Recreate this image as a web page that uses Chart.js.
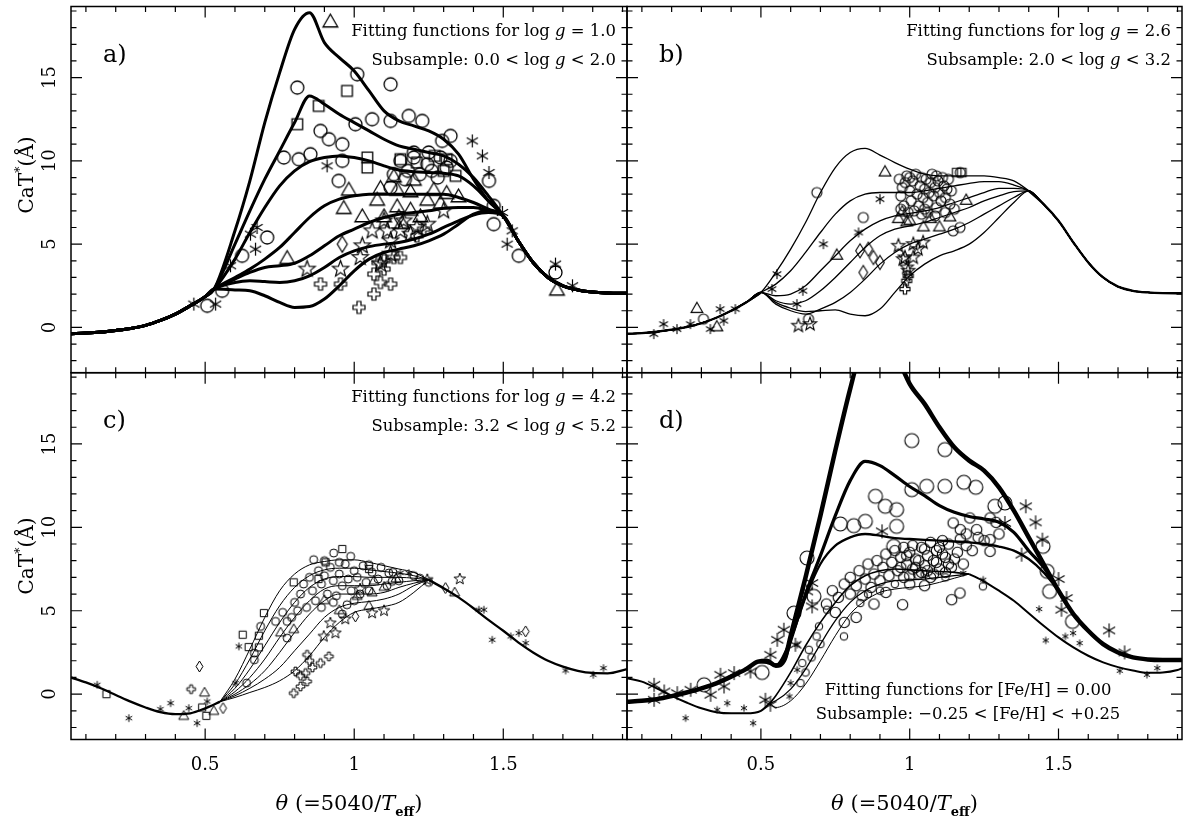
<!DOCTYPE html>
<html>
<head>
<meta charset="utf-8">
<script src="https://cdn.jsdelivr.net/npm/chart.js@4.4.1/dist/chart.umd.min.js"></script>
<style>
html, body { margin: 0; padding: 0; background: #fff; }
#wrap { position: relative; width: 1186px; height: 817px; }
#wrap canvas { position: absolute; left: 0; top: 0; }
</style>
</head>
<body>
<div id="wrap">
  <canvas id="pa" width="1186" height="817"></canvas>
  <canvas id="pb" width="1186" height="817"></canvas>
  <canvas id="pc" width="1186" height="817"></canvas>
  <canvas id="pd" width="1186" height="817"></canvas>
</div>
<script>
// ── Axes ─────────────────────────────────────────────────────
const xRange = [0.05, 1.915];
const yRange = [-2.72, 19.27];
const xTickLabels = [0.5, 1, 1.5];
const yTickLabels = [0, 5, 10, 15];

// ── Panel a : log g = 1.0 ───────────────────────────────────
const aBaseTheta = [0.05, 0.1, 0.15, 0.2, 0.25, 0.3, 0.35, 0.4, 0.45, 0.5];
const aBase = [-0.38, -0.34, -0.28, -0.18, -0.06, 0.12, 0.42, 0.8, 1.3, 1.85];
const aMidTheta = [0.53, 0.6, 0.65, 0.7, 0.75, 0.8, 0.85, 0.9, 0.95, 1.0, 1.05, 1.1, 1.15, 1.2, 1.25, 1.3, 1.35, 1.4, 1.45, 1.5];
const aCurve1 = [2.3, 5.8, 8.8, 12.3, 15.3, 17.9, 18.9, 17.1, 16.2, 15.4, 14.2, 13.0, 12.4, 12.1, 11.8, 11.3, 10.4, 8.9, 7.6, 6.7];
const aCurve2 = [2.3, 5.0, 7.0, 8.9, 10.6, 12.3, 13.9, 13.4, 12.8, 12.3, 11.8, 11.3, 10.9, 10.7, 10.5, 10.3, 9.8, 9.0, 7.9, 6.7];
const aCurve3 = [2.3, 4.1, 5.7, 7.2, 8.5, 9.4, 9.95, 10.2, 10.3, 10.2, 10.0, 9.7, 9.45, 9.35, 9.3, 9.25, 9.1, 8.5, 7.6, 6.7];
const aCurve4 = [2.3, 3.0, 3.5, 4.1, 4.8, 5.7, 6.6, 7.3, 7.7, 7.9, 8.0, 8.0, 8.0, 8.0, 8.0, 8.0, 7.8, 7.5, 7.1, 6.7];
const aCurve5 = [2.3, 2.9, 3.3, 3.6, 3.7, 3.85, 4.3, 4.9, 5.5, 5.9, 6.3, 6.6, 6.8, 6.9, 7.0, 7.15, 7.2, 7.2, 7.0, 6.7];
const aCurve6 = [2.3, 2.7, 2.8, 2.75, 2.7, 2.8, 3.1, 3.6, 4.2, 4.6, 4.85, 5.0, 5.1, 5.3, 5.6, 6.0, 6.4, 6.75, 6.9, 6.7];
const aCurve7 = [2.3, 2.25, 2.2, 1.9, 1.5, 1.2, 1.25, 1.7, 2.5, 3.4, 4.1, 4.5, 4.7, 4.9, 5.2, 5.6, 6.2, 6.8, 7.0, 6.7];
const aTailTheta = [1.55, 1.6, 1.65, 1.7, 1.75, 1.8, 1.85, 1.915];
const aTail = [5.2, 3.9, 3.0, 2.5, 2.25, 2.12, 2.07, 2.05];

const aCircles = [[0.507, 1.3], [0.557, 2.2], [0.624, 4.3], [0.708, 5.4], [0.764, 10.2], [0.814, 10.1], [0.853, 10.4],
  [0.809, 14.4], [0.887, 11.8], [0.915, 11.3], [0.96, 11.0], [0.948, 8.8], [0.96, 10.0], [1.01, 15.2], [1.122, 14.6],
  [1.004, 12.2], [1.06, 12.5], [1.122, 12.4], [1.183, 12.7], [1.228, 12.4], [1.323, 11.5], [1.295, 11.2], [1.155, 10.0],
  [1.2, 10.2], [1.245, 9.8], [1.29, 10.2], [1.323, 10.0], [1.133, 9.2], [1.18, 9.4], [1.22, 9.2], [1.26, 9.4], [1.31, 9.6],
  [1.122, 8.4], [1.2, 10.5], [1.25, 10.5], [1.28, 9.0], [1.17, 8.9], [1.452, 8.8], [1.468, 7.3], [1.468, 6.2],
  [1.552, 4.3], [1.675, 3.3]];
const aSquares = [[0.881, 13.3], [0.809, 12.2], [0.976, 14.2], [1.044, 10.2], [1.044, 9.6], [1.155, 10.1], [1.21, 9.9],
  [1.31, 10.1], [1.30, 9.4], [1.34, 9.1], [1.27, 10.3]];
const aTriangles = [[0.92, 18.3], [0.775, 4.1], [0.982, 8.2], [0.965, 7.1], [1.027, 6.6], [1.68, 2.2], [1.077, 7.6],
  [1.144, 8.2], [1.144, 7.2], [1.189, 8.1], [1.1, 6.6], [1.189, 7.0], [1.245, 7.6], [1.222, 6.6], [1.29, 7.4],
  [1.267, 8.2], [1.133, 9.0], [1.2, 8.8], [1.088, 8.3], [1.31, 8.0], [1.16, 6.2], [1.35, 7.8]];
const aStars = [[0.842, 3.5], [0.954, 3.5], [1.027, 4.9], [1.02, 4.2], [1.06, 5.8], [1.088, 3.8], [1.122, 4.4],
  [1.111, 5.8], [1.155, 5.8], [1.189, 5.6], [1.122, 5.2], [1.1, 6.4], [1.166, 6.4], [1.3, 7.0], [1.245, 6.2], [1.21, 6.0]];
const aPluses = [[0.887, 2.6], [0.954, 2.6], [1.016, 1.2], [1.066, 2.0], [1.066, 3.2], [1.088, 2.7], [1.122, 2.6],
  [1.1, 3.5], [1.133, 4.2], [1.155, 4.2], [1.233, 5.9], [1.21, 5.5], [1.08, 3.9], [1.1, 4.0]];
const aDiamonds = [[0.96, 5.0], [1.15, 6.6]];
const aAsterisks = [[0.462, 1.4], [0.535, 1.4], [0.585, 3.7], [0.652, 5.6], [0.674, 6.0], [0.669, 4.7], [0.909, 9.7],
  [1.396, 11.2], [1.43, 10.3], [1.452, 9.3], [1.497, 6.9], [1.53, 5.8], [1.513, 5.0], [1.675, 3.8], [1.732, 2.5]];

// ── Panel b : log g = 2.6 ───────────────────────────────────
const bBaseTheta = [0.05, 0.1, 0.15, 0.2, 0.25, 0.3, 0.35, 0.4, 0.45];
const bBase = [-0.38, -0.34, -0.26, -0.14, 0.02, 0.25, 0.58, 1.0, 1.5];
const bMidTheta = [0.5, 0.55, 0.6, 0.65, 0.7, 0.75, 0.8, 0.85, 0.9, 0.95, 1.0, 1.05, 1.1, 1.15, 1.2, 1.25, 1.3, 1.35, 1.4];
const bCurve1 = [2.1, 3.3, 4.7, 6.3, 8.1, 9.6, 10.5, 10.75, 10.35, 9.9, 9.5, 9.2, 9.1, 9.1, 9.1, 9.1, 9.0, 8.8, 8.2];
const bCurve2 = [2.1, 2.6, 3.4, 4.5, 5.7, 6.8, 7.6, 8.0, 8.1, 8.1, 8.1, 8.2, 8.35, 8.5, 8.65, 8.75, 8.75, 8.55, 8.2];
const bCurve3 = [2.1, 1.9, 2.0, 2.5, 3.4, 4.3, 5.2, 5.9, 6.4, 6.7, 6.85, 7.0, 7.2, 7.5, 7.8, 8.1, 8.35, 8.35, 8.2];
const bCurve4 = [2.1, 1.6, 1.4, 1.6, 2.2, 3.0, 3.9, 4.8, 5.5, 5.9, 6.1, 6.3, 6.6, 6.9, 7.2, 7.6, 7.9, 8.15, 8.2];
const bCurve5 = [2.1, 1.4, 1.0, 0.8, 1.1, 1.5, 2.1, 2.9, 3.8, 4.5, 5.0, 5.3, 5.6, 5.9, 6.3, 6.8, 7.3, 7.8, 8.2];
const bCurve6 = [2.1, 1.5, 1.15, 0.95, 1.0, 1.05, 0.8, 0.7, 1.1, 2.1, 3.1, 3.8, 4.3, 4.6, 5.0, 5.7, 6.6, 7.5, 8.2];
const bTailTheta = [1.45, 1.5, 1.55, 1.6, 1.65, 1.7, 1.75, 1.8, 1.85, 1.915];
const bTail = [7.4, 6.4, 5.1, 3.9, 3.0, 2.45, 2.2, 2.1, 2.06, 2.05];

const bCircles = [[0.307, 0.5], [0.66, 0.5], [0.688, 8.1], [0.844, 6.6], [0.965, 8.9], [0.975, 8.4], [0.97, 7.9],
  [0.985, 8.7], [0.99, 9.1], [1.0, 8.2], [1.005, 7.6], [1.01, 8.8], [1.02, 9.2], [1.025, 8.0], [1.03, 7.3], [1.035, 8.5],
  [1.04, 9.0], [1.045, 7.8], [1.05, 8.3], [1.055, 8.9], [1.06, 7.5], [1.065, 8.1], [1.07, 8.7], [1.075, 9.2], [1.08, 7.9],
  [1.085, 8.4], [1.09, 7.2], [1.095, 8.8], [1.1, 8.1], [1.105, 7.6], [1.11, 9.0], [1.115, 8.5], [1.12, 7.8], [1.125, 8.3],
  [1.13, 8.9], [1.135, 7.4], [0.98, 7.3], [0.995, 6.9], [1.015, 7.0], [1.04, 6.8], [1.06, 6.9], [1.085, 6.7], [1.14, 8.2],
  [1.15, 7.1], [1.146, 5.8], [1.169, 6.0], [1.17, 9.3], [0.97, 7.1], [1.0, 9.0], [1.09, 9.1], [1.05, 7.1], [1.12, 6.9]];
const bSquares = [[1.158, 9.3], [1.175, 9.3]];
const bTriangles = [[0.285, 1.1], [0.352, 0.0], [0.755, 4.3], [0.917, 9.3], [0.962, 6.5], [0.99, 6.3], [1.0, 6.4],
  [1.046, 6.0], [1.1, 6.0], [1.135, 6.6], [1.19, 7.6], [1.07, 6.5], [0.975, 6.9]];
const bStars = [[0.626, 0.1], [0.665, 0.2], [0.962, 4.9], [1.012, 5.0], [0.978, 4.1], [1.012, 4.2], [0.99, 3.6],
  [1.028, 4.7], [0.984, 4.2], [0.995, 3.4], [1.045, 5.1]];
const bPluses = [[0.995, 3.1], [0.984, 2.3], [0.99, 2.8]];
const bDiamonds = [[0.833, 4.6], [0.861, 4.7], [0.878, 4.2], [0.9, 3.9], [0.844, 3.3]];
const bAsterisks = [[0.14, -0.4], [0.173, 0.2], [0.218, -0.1], [0.263, 0.2], [0.33, -0.1], [0.363, 1.1], [0.375, 0.4],
  [0.414, 1.1], [0.554, 3.2], [0.537, 2.3], [0.621, 1.4], [0.641, 2.2], [0.71, 5.0], [0.828, 5.7], [0.9, 7.7]];

// ── Panel c : log g = 4.2 ───────────────────────────────────
const cBaseTheta = [0.05, 0.1, 0.15, 0.2, 0.25, 0.3, 0.35, 0.4, 0.45, 0.5, 0.55];
const cBase = [1.0, 0.7, 0.35, -0.05, -0.45, -0.8, -1.08, -1.2, -1.15, -0.85, -0.45];
const cMidTheta = [0.55, 0.6, 0.65, 0.7, 0.75, 0.8, 0.85, 0.9, 0.95, 1.0, 1.05, 1.1, 1.15, 1.2, 1.25];
const cCurve1 = [-0.45, 0.9, 2.7, 4.6, 6.2, 7.2, 7.75, 7.95, 8.05, 8.05, 7.9, 7.7, 7.5, 7.3, 6.85];
const cCurve2 = [-0.45, 0.6, 2.1, 3.8, 5.3, 6.4, 7.1, 7.45, 7.55, 7.55, 7.45, 7.35, 7.25, 7.1, 6.85];
const cCurve3 = [-0.45, 0.35, 1.5, 2.9, 4.3, 5.5, 6.4, 6.9, 7.05, 7.05, 7.0, 7.0, 7.0, 6.95, 6.85];
const cCurve4 = [-0.45, 0.15, 1.0, 2.1, 3.4, 4.6, 5.6, 6.3, 6.5, 6.5, 6.5, 6.6, 6.7, 6.8, 6.85];
const cCurve5 = [-0.45, 0.0, 0.6, 1.4, 2.5, 3.7, 4.8, 5.6, 6.0, 6.0, 6.0, 6.1, 6.4, 6.65, 6.85];
const cCurve6 = [-0.45, -0.1, 0.35, 0.9, 1.6, 2.6, 3.6, 4.6, 5.2, 5.45, 5.55, 5.7, 6.0, 6.5, 6.85];
const cCurve7 = [-0.45, -0.2, 0.1, 0.4, 0.8, 1.4, 2.3, 3.4, 4.3, 4.9, 5.1, 5.25, 5.5, 6.1, 6.85];
const cTailTheta = [1.25, 1.3, 1.35, 1.4, 1.45, 1.5, 1.55, 1.6, 1.65, 1.7, 1.75, 1.8, 1.85, 1.915];
const cTail = [6.85, 6.35, 5.8, 5.15, 4.45, 3.8, 3.1, 2.5, 2.0, 1.65, 1.4, 1.27, 1.25, 1.5];

const cCircles = [[0.639, 0.66], [0.665, 2.06], [0.665, 2.46], [0.686, 4.06], [0.736, 4.36], [0.775, 3.36], [0.775, 4.36],
  [0.864, 8.06], [0.931, 8.46], [0.988, 8.26], [1.049, 7.76], [1.116, 7.26], [1.127, 6.76], [0.976, 5.36], [0.8, 5.5],
  [0.82, 6.0], [0.83, 6.6], [0.84, 5.2], [0.85, 7.0], [0.86, 6.2], [0.87, 5.6], [0.88, 7.4], [0.89, 6.6], [0.9, 7.1],
  [0.91, 6.0], [0.92, 7.6], [0.93, 6.8], [0.94, 5.9], [0.95, 7.2], [0.96, 6.5], [0.97, 7.8], [0.98, 6.9], [0.99, 6.2],
  [1.0, 7.4], [1.01, 7.0], [1.02, 6.0], [1.03, 7.7], [1.04, 6.7], [1.06, 7.3], [1.08, 6.9], [1.09, 7.6], [1.11, 6.5],
  [1.13, 7.3], [1.15, 6.8], [1.2, 7.1], [1.22, 6.95], [0.76, 4.9], [0.79, 4.6], [0.81, 5.0], [0.89, 5.2], [0.93, 5.5],
  [0.96, 4.8], [1.0, 5.6], [1.05, 6.2], [1.25, 6.7], [0.9, 8.0], [0.95, 7.9]];
const cSquares = [[0.169, 0.0], [0.626, 3.56], [0.646, 2.82], [0.68, 3.5], [0.697, 4.86], [0.68, 2.8], [0.49, -0.8],
  [0.504, -1.3], [0.797, 6.7], [0.904, 7.9], [0.96, 8.7], [0.88, 6.9], [1.05, 7.5]];
const cTriangles = [[0.428, -1.34], [0.498, 0.06], [0.529, -1.04], [0.797, 3.86], [0.753, 3.66], [1.066, 6.76],
  [1.06, 6.06], [1.049, 5.26], [1.337, 6.06], [1.01, 5.86], [0.95, 5.0], [0.9, 5.6], [1.1, 6.4], [1.14, 6.9]];
const cDiamonds = [[0.481, 1.66], [0.56, -0.84], [1.004, 4.66], [1.306, 6.36], [1.575, 3.76]];
const cStars = [[0.898, 3.46], [0.937, 3.66], [1.354, 6.9], [1.06, 4.86], [1.02, 6.3], [0.92, 4.26], [1.245, 6.86],
  [0.97, 4.5], [1.1, 5.0]];
const cPluses = [[0.453, 0.3], [0.803, 1.36], [0.797, 0.06], [0.82, 0.46], [0.842, 0.76], [0.837, 1.26], [0.842, 2.36],
  [0.887, 1.86], [0.915, 2.26], [0.86, 1.6], [0.85, 2.0], [0.82, 1.1]];
const cAsterisks = [[0.138, 0.56], [0.244, -1.44], [0.35, -0.9], [0.384, -0.54], [0.445, -0.84], [0.473, -1.74],
  [0.507, -0.44], [0.613, 2.86], [0.602, 0.66], [1.155, 7.26], [1.183, 7.26], [1.418, 5.06], [1.435, 5.06],
  [1.463, 3.26], [1.525, 3.46], [1.552, 3.66], [1.575, 3.06], [1.709, 1.42], [1.802, 1.16], [1.836, 1.56]];

// ── Panel d : [Fe/H] = 0.00 ─────────────────────────────────
const dCurve1Theta = [0.05, 0.1, 0.15, 0.2, 0.25, 0.3, 0.35, 0.4, 0.45, 0.49, 0.52, 0.55, 0.58, 0.6, 0.65, 0.7, 0.75,
  0.8, 0.85, 0.9, 0.95, 1.0, 1.05, 1.1, 1.15, 1.2, 1.25, 1.3, 1.35, 1.4, 1.45, 1.5, 1.55, 1.6, 1.65, 1.7, 1.75, 1.8,
  1.85, 1.915];
const dCurve1 = [-0.45, -0.4, -0.3, -0.12, 0.1, 0.35, 0.65, 1.05, 1.5, 1.95, 2.0, 1.7, 2.1, 3.5, 7.0, 10.7, 14.6,
  18.3, 21.5, 22.5, 20.6, 18.6, 17.4, 16.0, 14.8, 14.0, 13.4, 12.4, 11.0, 9.4, 7.8, 6.2, 4.8, 3.8, 3.0, 2.5, 2.2, 2.08,
  2.05, 2.05];
const dCurve2Theta = [0.49, 0.52, 0.55, 0.58, 0.6, 0.65, 0.7, 0.75, 0.8, 0.85, 0.9, 0.95, 1.0, 1.05, 1.1, 1.15, 1.2,
  1.25, 1.3, 1.35, 1.4, 1.45, 1.5];
const dCurve2 = [1.95, 1.9, 1.75, 2.1, 3.2, 6.0, 8.3, 10.7, 12.8, 13.95, 13.7, 13.1, 12.45, 11.9, 11.3, 10.9, 10.65,
  10.5, 10.3, 9.7, 8.6, 7.6, 6.2];
const dCurve3Theta = [0.52, 0.55, 0.6, 0.65, 0.7, 0.75, 0.8, 0.85, 0.9, 0.95, 1.0, 1.05, 1.1, 1.15, 1.2, 1.25, 1.3,
  1.35, 1.4, 1.45, 1.5];
const dCurve3 = [2.0, 1.75, 3.3, 5.8, 7.8, 8.9, 9.4, 9.6, 9.5, 9.35, 9.3, 9.25, 9.2, 9.15, 9.1, 9.0, 8.85, 8.6, 8.1,
  7.3, 6.2];
const dThinBaseTheta = [0.05, 0.1, 0.15, 0.2, 0.25, 0.3, 0.35, 0.4, 0.45, 0.5, 0.53];
const dThinBase = [0.95, 0.75, 0.35, -0.1, -0.5, -0.85, -1.08, -1.15, -1.15, -1.0, -0.55];
const dThinMidTheta = [0.53, 0.55, 0.6, 0.65, 0.7, 0.75, 0.8, 0.85, 0.9, 0.95, 1.0, 1.05, 1.1, 1.15, 1.2];
const dThin1 = [-0.55, -0.1, 1.3, 2.9, 4.3, 5.5, 6.5, 7.1, 7.4, 7.5, 7.45, 7.4, 7.35, 7.3, 7.2];
const dThin2 = [-0.55, -0.4, 0.3, 1.5, 3.0, 4.4, 5.5, 6.2, 6.6, 6.8, 6.85, 6.9, 7.0, 7.1, 7.2];
const dThin3 = [-0.55, -0.8, -0.4, 0.6, 2.0, 3.5, 4.8, 5.6, 6.1, 6.3, 6.4, 6.5, 6.7, 6.95, 7.2];
const dThinTailTheta = [1.2, 1.25, 1.3, 1.35, 1.4, 1.45, 1.5, 1.55, 1.6, 1.65, 1.7, 1.75, 1.8, 1.85, 1.9, 1.915];
const dThinTail = [7.2, 6.75, 6.2, 5.6, 4.85, 4.1, 3.4, 2.8, 2.3, 1.9, 1.62, 1.42, 1.28, 1.3, 1.45, 1.55];

const dBigCircles = [[1.007, 15.2], [1.118, 14.66], [1.057, 12.46], [1.118, 12.46], [1.182, 12.7], [1.222, 12.4],
  [1.007, 12.26], [0.956, 11.06], [0.956, 10.06], [1.286, 11.26], [1.32, 11.46], [1.448, 8.86], [1.47, 6.16],
  [1.547, 4.36], [1.462, 7.36], [0.885, 11.86], [0.918, 11.26], [0.767, 10.2], [0.812, 10.1], [0.851, 10.36],
  [0.946, 8.86], [0.655, 8.16], [0.504, 1.3], [0.309, 0.56], [0.611, 4.86], [0.678, 5.86]];
const dMidCircles = [[0.72, 5.4], [0.74, 6.2], [0.76, 5.8], [0.78, 6.6], [0.8, 6.0], [0.8, 7.0], [0.82, 6.5], [0.83, 7.4],
  [0.84, 5.9], [0.85, 6.9], [0.86, 7.8], [0.87, 6.4], [0.88, 7.2], [0.89, 8.0], [0.9, 6.8], [0.91, 7.6], [0.92, 8.4],
  [0.93, 7.1], [0.94, 7.9], [0.95, 8.6], [0.96, 7.4], [0.97, 8.2], [0.98, 7.0], [0.99, 7.8], [1.0, 8.5], [1.01, 7.5],
  [1.02, 8.1], [1.03, 7.2], [1.04, 8.8], [1.05, 7.7], [1.06, 8.3], [1.07, 7.0], [1.08, 8.0], [1.09, 8.6], [1.1, 7.5],
  [1.11, 9.2], [1.12, 8.2], [1.13, 7.8], [1.146, 10.26], [1.17, 9.86], [1.19, 8.9], [1.16, 8.5], [1.202, 10.56],
  [1.225, 9.86], [1.27, 10.56], [1.29, 10.3], [1.27, 9.26], [1.27, 8.56], [1.3, 9.6], [1.25, 9.2], [1.141, 5.66],
  [1.169, 6.06], [0.976, 5.36], [0.82, 4.6], [0.78, 4.3], [0.75, 4.9], [1.0, 6.6], [1.05, 6.5], [0.92, 6.1], [0.88, 5.4],
  [0.97, 7.6], [0.99, 8.3], [1.01, 8.9], [1.03, 8.0], [1.05, 8.7], [1.07, 9.1], [1.09, 7.9], [1.11, 8.4], [1.13, 9.0],
  [1.15, 8.1], [1.17, 9.3], [1.19, 9.6], [1.21, 8.6], [1.23, 9.4], [1.02, 7.6], [1.06, 7.4], [1.1, 8.8], [1.14, 7.6],
  [1.18, 7.8], [0.98, 8.8], [1.0, 7.1], [1.04, 7.3], [1.08, 7.2], [1.12, 7.3]];
const dSmallCircles = [[0.633, 0.66], [0.639, 1.86], [0.661, 2.66], [0.687, 3.46], [0.695, 4.06], [0.779, 3.46],
  [0.834, 5.46], [0.722, 5.06], [1.246, 6.46], [1.05, 7.2], [1.12, 7.0], [0.9, 6.2], [0.95, 6.6], [0.86, 6.0],
  [0.67, 2.2], [0.7, 3.0], [0.65, 1.3]];
const dBigAsterisks = [[1.39, 11.26], [1.423, 10.3], [1.446, 9.26], [1.376, 8.36], [1.5, 6.9], [1.527, 5.76],
  [1.51, 5.06], [1.67, 3.82], [1.722, 2.5], [1.32, 10.26], [0.907, 9.76], [0.672, 6.66], [0.655, 6.16], [0.672, 5.26],
  [0.577, 3.86], [0.555, 3.26], [0.532, 2.36], [0.616, 2.96], [0.465, 1.36], [0.41, 1.26], [0.364, 1.16],
  [0.376, 0.46], [0.331, -0.04], [0.264, 0.26], [0.219, 0.06], [0.175, 0.16], [0.141, 0.56], [0.141, -0.34],
  [0.515, -0.34], [0.532, -0.64]];
const dSmallAsterisks = [[0.247, -1.44], [0.353, -0.94], [0.387, -0.54], [0.443, -0.84], [0.474, -1.74], [0.596, -0.14],
  [0.6, 0.66], [0.622, 1.46], [0.622, 2.96], [1.435, 5.1], [1.457, 3.22], [1.523, 3.46], [1.549, 3.66], [1.571, 3.06],
  [1.706, 1.4], [1.797, 1.16], [1.832, 1.56], [1.247, 6.86], [1.18, 7.26]];

// ── Layout ───────────────────────────────────────────────────
const W = 1186, H = 817;
const SERIF = '"DejaVu Serif", "Liberation Serif", serif';
const boxA = { left: 71, top: 6.5, right: 627, bottom: 372.7 };
const boxB = { left: 627, top: 6.5, right: 1182, bottom: 372.7 };
const boxC = { left: 71, top: 372.7, right: 627, bottom: 739.5 };
const boxD = { left: 627, top: 372.7, right: 1182, bottom: 739.5 };

// ── Marker glyphs ────────────────────────────────────────────
function makeMarker(kind, r, lw) {
    const pad = Math.ceil(lw) + 1;
    const s = Math.ceil(2 * r + 2 * pad);
    const c = document.createElement("canvas");
    c.width = s; c.height = s;
    const g = c.getContext("2d");
    g.translate(s / 2, s / 2);
    g.strokeStyle = "#000";
    g.lineWidth = lw;
    g.beginPath();
    if (kind === "circle") {
        g.arc(0, 0, r, 0, Math.PI * 2);
    } else if (kind === "square") {
        g.rect(-r, -r, 2 * r, 2 * r);
    } else if (kind === "triangle") {
        g.moveTo(0, -r); g.lineTo(r * 0.866, r * 0.5); g.lineTo(-r * 0.866, r * 0.5); g.closePath();
    } else if (kind === "diamond") {
        g.moveTo(0, -r); g.lineTo(r * 0.62, 0); g.lineTo(0, r); g.lineTo(-r * 0.62, 0); g.closePath();
    } else if (kind === "star") {
        for (let i = 0; i < 10; i++) {
            const rr = i % 2 === 0 ? r : r * 0.42;
            const ang = -Math.PI / 2 + i * Math.PI / 5;
            const px = Math.cos(ang) * rr, py = Math.sin(ang) * rr;
            if (i === 0) g.moveTo(px, py); else g.lineTo(px, py);
        }
        g.closePath();
    } else if (kind === "plus") {
        const a = r / 3;
        const p = [[-a, -r], [a, -r], [a, -a], [r, -a], [r, a], [a, a], [a, r], [-a, r], [-a, a], [-r, a], [-r, -a], [-a, -a]];
        p.forEach(([px, py], i) => i ? g.lineTo(px, py) : g.moveTo(px, py));
        g.closePath();
    } else if (kind === "asterisk") {
        [90, 30, 150].forEach(deg => {
            const t = deg * Math.PI / 180;
            g.moveTo(Math.cos(t) * r, -Math.sin(t) * r);
            g.lineTo(-Math.cos(t) * r, Math.sin(t) * r);
        });
    }
    g.stroke();
    return c;
}

// ── Dataset helpers ──────────────────────────────────────────
function curveData(thetas, values) {
    return thetas.map((t, i) => ({ x: t, y: values[i] }));
}

function lineSet(thetas, values, width) {
    return {
        data: curveData(thetas, values),
        showLine: true,
        borderColor: "#000",
        borderWidth: width,
        pointRadius: 0,
        cubicInterpolationMode: "monotone",
        fill: false,
        order: 2
    };
}

function markSet(list, img) {
    return {
        data: list.map(([t, v]) => ({ x: t, y: v })),
        showLine: false,
        pointStyle: img,
        pointRadius: 3,
        pointBorderWidth: 0,
        backgroundColor: "rgba(0,0,0,0)",
        borderColor: "rgba(0,0,0,0)",
        order: 1
    };
}

// ── Rich text (italic / sub / sup) ──────────────────────────
function richFont(style, size) {
    if (style === "i") return "italic " + size + "px " + SERIF;
    if (style === "sub") return "bold " + Math.round(size * 0.62) + "px " + SERIF;
    if (style === "sup") return Math.round(size * 0.65) + "px " + SERIF;
    return size + "px " + SERIF;
}

function drawRich(ctx, parts, x, y, size, align) {
    let total = 0;
    const widths = parts.map(([t, s]) => {
        ctx.font = richFont(s, size);
        const w = ctx.measureText(t).width;
        total += w;
        return w;
    });
    let cx = align === "right" ? x - total : align === "center" ? x - total / 2 : x;
    ctx.textAlign = "left";
    ctx.textBaseline = "alphabetic";
    parts.forEach(([t, s], i) => {
        ctx.font = richFont(s, size);
        const dy = s === "sub" ? size * 0.28 : s === "sup" ? -size * 0.45 : 0;
        ctx.fillText(t, cx, y + dy);
        cx += widths[i];
    });
}

let noteSize = null;
function getNoteSize(ctx) {
    if (noteSize) return noteSize;
    ctx.font = "14px " + SERIF;
    const w = ctx.measureText("Fitting functions for log g = 1.0").width;
    noteSize = 14 * 265 / w;
    return noteSize;
}

// ── Frame, ticks and labels ─────────────────────────────────
const framePlugin = {
    id: "frame",
    afterDatasetsDraw(chart, args, o) {
        const { ctx, chartArea: ca } = chart;
        const x = chart.scales.x, y = chart.scales.y;
        ctx.save();
        ctx.strokeStyle = "#000";
        ctx.fillStyle = "#000";
        ctx.lineWidth = 1.2;
        ctx.beginPath();
        for (let i = 1; i <= 19; i++) {
            const v = i / 10;
            if (v <= x.min || v >= x.max) continue;
            const px = x.getPixelForValue(v);
            const len = i % 5 === 0 ? 11 : 5.5;
            ctx.moveTo(px, ca.bottom); ctx.lineTo(px, ca.bottom - len);
            ctx.moveTo(px, ca.top); ctx.lineTo(px, ca.top + len);
        }
        for (let v = Math.ceil(y.min); v <= Math.floor(y.max); v++) {
            const py = y.getPixelForValue(v);
            const len = v % 5 === 0 ? 11 : 5.5;
            ctx.moveTo(ca.left, py); ctx.lineTo(ca.left + len, py);
            ctx.moveTo(ca.right, py); ctx.lineTo(ca.right - len, py);
        }
        ctx.stroke();
        ctx.lineWidth = 1.5;
        ctx.strokeRect(ca.left, ca.top, ca.right - ca.left, ca.bottom - ca.top);

        // tick labels
        ctx.font = "18px " + SERIF;
        if (o.yLabels) {
            yTickLabels.forEach(v => {
                ctx.save();
                ctx.translate(55, y.getPixelForValue(v));
                ctx.rotate(-Math.PI / 2);
                ctx.textAlign = "center";
                ctx.textBaseline = "alphabetic";
                ctx.fillText(String(v), 0, 0);
                ctx.restore();
            });
            ctx.save();
            ctx.translate(33, o.yTitleY);
            ctx.rotate(-Math.PI / 2);
            drawRich(ctx, [["CaT", "r"], ["*", "sup"], ["(Å)", "r"]], 0, 0, 20, "center");
            ctx.restore();
        }
        if (o.xLabels) {
            ctx.font = "18px " + SERIF;
            ctx.textAlign = "center";
            ctx.textBaseline = "alphabetic";
            xTickLabels.forEach(v => ctx.fillText(String(v), x.getPixelForValue(v), 770));
            drawRich(ctx, [["θ", "i"], [" (=5040/", "r"], ["T", "i"], ["eff", "sub"], [")", "r"]],
                (ca.left + ca.right) / 2, 810, 21, "center");
        }

        // panel letter
        ctx.font = "24px " + SERIF;
        ctx.textAlign = "left";
        ctx.textBaseline = "alphabetic";
        ctx.fillText(o.letter, ca.left + 32, ca.top + 55);

        // notes
        const ns = getNoteSize(ctx);
        o.notes.forEach(n => drawRich(ctx, n.parts, n.x, n.y, ns, n.align));
        ctx.restore();
    }
};

// ── Chart builder ────────────────────────────────────────────
function makeChart(id, box, datasets, frame) {
    return new Chart(document.getElementById(id), {
        type: "scatter",
        data: { datasets },
        options: {
            responsive: false,
            animation: false,
            devicePixelRatio: 1,
            events: [],
            layout: { padding: { left: box.left, top: box.top, right: W - box.right, bottom: H - box.bottom } },
            scales: {
                x: { type: "linear", min: xRange[0], max: xRange[1], display: false },
                y: { type: "linear", min: yRange[0], max: yRange[1], display: false }
            },
            plugins: { legend: { display: false }, tooltip: { enabled: false }, frame }
        },
        plugins: [framePlugin]
    });
}

function topNotes(box, g, lo, hi) {
    return [
        { parts: [["Fitting functions for log ", "r"], ["g", "i"], [" = " + g, "r"]], x: box.right - 11, y: box.top + 29.5, align: "right" },
        { parts: [["Subsample: " + lo + " < log ", "r"], ["g", "i"], [" < " + hi, "r"]], x: box.right - 11, y: box.top + 58.5, align: "right" }
    ];
}

// ── Panel a ──────────────────────────────────────────────────
(function () {
    const mk = {
        circle: makeMarker("circle", 6.5, 1.3), square: makeMarker("square", 5.3, 1.3),
        triangle: makeMarker("triangle", 8.5, 1.3), star: makeMarker("star", 8.5, 1.2),
        plus: makeMarker("plus", 6, 1.2), diamond: makeMarker("diamond", 8, 1.2),
        asterisk: makeMarker("asterisk", 6.5, 1.2)
    };
    const fullTheta = aBaseTheta.concat(aMidTheta, aTailTheta);
    const curves = [aCurve1, aCurve2, aCurve3, aCurve4, aCurve5, aCurve6, aCurve7]
        .map(c => lineSet(fullTheta, aBase.concat(c, aTail), 3));
    makeChart("pa", boxA, curves.concat([
        markSet(aCircles, mk.circle), markSet(aSquares, mk.square), markSet(aTriangles, mk.triangle),
        markSet(aStars, mk.star), markSet(aPluses, mk.plus), markSet(aDiamonds, mk.diamond),
        markSet(aAsterisks, mk.asterisk)
    ]), { letter: "a)", yLabels: true, xLabels: false, yTitleY: 175, notes: topNotes(boxA, "1.0", "0.0", "2.0") });
})();

// ── Panel b ──────────────────────────────────────────────────
(function () {
    const mk = {
        circle: makeMarker("circle", 5, 1.1), square: makeMarker("square", 4.3, 1.1),
        triangle: makeMarker("triangle", 6.8, 1.1), star: makeMarker("star", 7, 1.1),
        plus: makeMarker("plus", 5, 1.1), diamond: makeMarker("diamond", 7, 1.1),
        asterisk: makeMarker("asterisk", 5, 1.1)
    };
    const fullTheta = bBaseTheta.concat(bMidTheta, bTailTheta);
    const curves = [bCurve1, bCurve2, bCurve3, bCurve4, bCurve5, bCurve6]
        .map(c => lineSet(fullTheta, bBase.concat(c, bTail), 1.3));
    curves.push(lineSet(bBaseTheta.concat([0.5]), bBase.concat([2.1]), 2.3));
    curves.push(lineSet([1.4].concat(bTailTheta), [8.2].concat(bTail), 2.3));
    makeChart("pb", boxB, curves.concat([
        markSet(bCircles, mk.circle), markSet(bSquares, mk.square), markSet(bTriangles, mk.triangle),
        markSet(bStars, mk.star), markSet(bPluses, mk.plus), markSet(bDiamonds, mk.diamond),
        markSet(bAsterisks, mk.asterisk)
    ]), { letter: "b)", yLabels: false, xLabels: false, notes: topNotes(boxB, "2.6", "2.0", "3.2") });
})();

// ── Panel c ──────────────────────────────────────────────────
(function () {
    const mk = {
        circle: makeMarker("circle", 4, 1), square: makeMarker("square", 3.6, 1),
        triangle: makeMarker("triangle", 5.8, 1), star: makeMarker("star", 6, 1),
        plus: makeMarker("plus", 4.3, 1), diamond: makeMarker("diamond", 5.5, 1),
        asterisk: makeMarker("asterisk", 3.8, 1)
    };
    const curves = [cCurve1, cCurve2, cCurve3, cCurve4, cCurve5, cCurve6, cCurve7]
        .map(c => lineSet(cMidTheta, c, 1));
    curves.push(lineSet(cBaseTheta, cBase, 2.3));
    curves.push(lineSet(cTailTheta, cTail, 2.3));
    makeChart("pc", boxC, curves.concat([
        markSet(cCircles, mk.circle), markSet(cSquares, mk.square), markSet(cTriangles, mk.triangle),
        markSet(cStars, mk.star), markSet(cPluses, mk.plus), markSet(cDiamonds, mk.diamond),
        markSet(cAsterisks, mk.asterisk)
    ]), { letter: "c)", yLabels: true, xLabels: true, yTitleY: 556, notes: topNotes(boxC, "4.2", "3.2", "5.2") });
})();

// ── Panel d ──────────────────────────────────────────────────
(function () {
    const mk = {
        big: makeMarker("circle", 7, 1.1), mid: makeMarker("circle", 5.2, 1.1), small: makeMarker("circle", 3.8, 1),
        bigAst: makeMarker("asterisk", 7, 1.1), smallAst: makeMarker("asterisk", 3.6, 1)
    };
    const curves = [
        lineSet(dCurve1Theta, dCurve1, 4.5),
        lineSet(dCurve2Theta, dCurve2, 3.2),
        lineSet(dCurve3Theta, dCurve3, 2.3),
        lineSet(dThinBaseTheta, dThinBase, 2),
        lineSet(dThinMidTheta, dThin1, 1.6),
        lineSet(dThinMidTheta, dThin2, 1.3),
        lineSet(dThinMidTheta, dThin3, 1),
        lineSet(dThinTailTheta, dThinTail, 2)
    ];
    const notes = [
        { parts: [["Fitting functions for [Fe/H] = 0.00", "r"]], x: 968, y: 695, align: "center" },
        { parts: [["Subsample: \u22120.25 < [Fe/H] < +0.25", "r"]], x: 968, y: 718.5, align: "center" }
    ];
    makeChart("pd", boxD, curves.concat([
        markSet(dBigCircles, mk.big), markSet(dMidCircles, mk.mid), markSet(dSmallCircles, mk.small),
        markSet(dBigAsterisks, mk.bigAst), markSet(dSmallAsterisks, mk.smallAst)
    ]), { letter: "d)", yLabels: false, xLabels: true, notes });
})();
</script>
</body>
</html>
